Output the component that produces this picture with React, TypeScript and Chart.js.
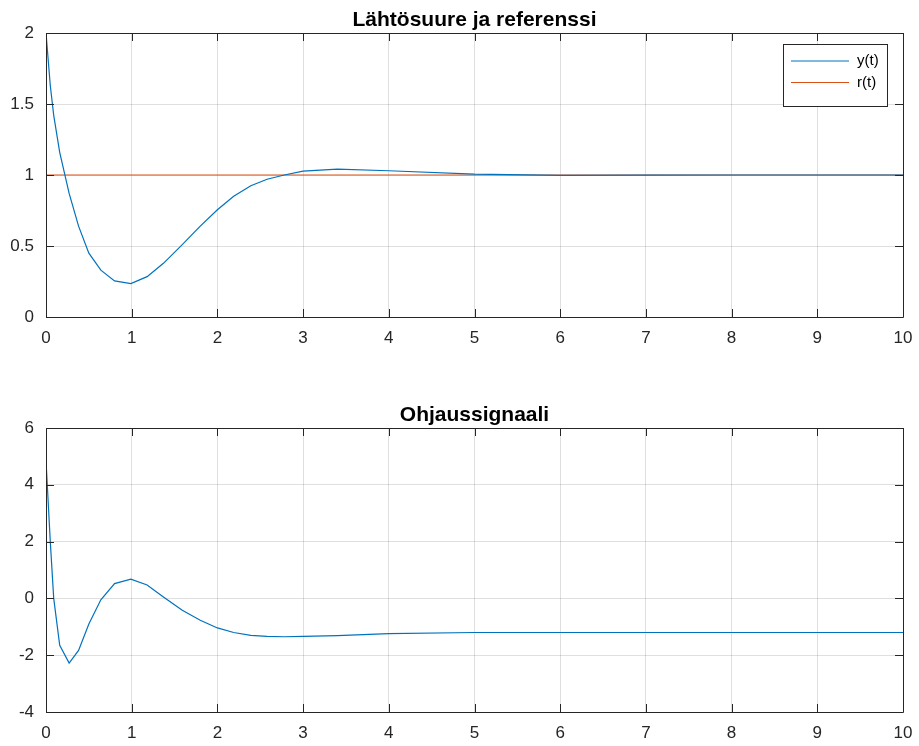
import React, { useEffect, useRef } from "react";
import { Chart, registerables } from "chart.js";

Chart.register(...registerables);

// ---- data ----
const tSim = [0, 0.05, 0.09, 0.16, 0.27, 0.38, 0.5, 0.64, 0.8, 0.99, 1.18, 1.37, 1.59, 1.8, 2.0, 2.19, 2.39, 2.58, 2.78, 3.0, 3.4, 4.0, 5.0, 6.0, 7.0, 8.0, 9.0, 10.0];
const yOut = [2.0, 1.63, 1.42, 1.16, 0.87, 0.64, 0.45, 0.33, 0.254, 0.235, 0.284, 0.378, 0.51, 0.64, 0.755, 0.85, 0.924, 0.97, 1.0, 1.027, 1.042, 1.03, 1.006, 0.998, 0.999, 1.0, 1.0, 1.0];
const tRef = [0, 10];
const rRef = [1, 1];
const uCtrl = [4.85, 2.0, 0.0, -1.65, -2.28, -1.83, -0.9, -0.05, 0.52, 0.68, 0.47, 0.05, -0.42, -0.77, -1.04, -1.2, -1.3, -1.34, -1.35, -1.34, -1.31, -1.24, -1.2, -1.2, -1.2, -1.2, -1.2, -1.2];

const topTitle = "Lähtösuure ja referenssi";
const bottomTitle = "Ohjaussignaali";
const legendLabels = ["y(t)", "r(t)"];

const BLUE = "#0072BD";
const ORANGE = "#D95319";
const AXIS = "#262626";
const FONT = "'Liberation Sans', Arial, Helvetica, sans-serif";

const zip = (xs: number[], ys: number[]) => xs.map((x, i) => ({ x, y: ys[i] }));

const matlabPlugin = {
  id: "matlabAxes",
  afterDraw(chart: any, _args: any, opts: any) {
    const ctx = chart.ctx;
    const a = chart.chartArea;
    const xs = chart.scales.x;
    const ys = chart.scales.y;
    ctx.save();
    ctx.strokeStyle = AXIS;
    ctx.lineWidth = 1;
    ctx.beginPath();
    ctx.rect(Math.round(a.left) + 0.5, Math.round(a.top) + 0.5, Math.round(a.right - a.left), Math.round(a.bottom - a.top));
    ctx.stroke();
    const tl = 8;
    ctx.beginPath();
    xs.ticks.forEach((t: any) => {
      const px = Math.round(xs.getPixelForValue(t.value)) + 0.5;
      ctx.moveTo(px, a.bottom);
      ctx.lineTo(px, a.bottom - tl);
      ctx.moveTo(px, a.top);
      ctx.lineTo(px, a.top + tl);
    });
    ys.ticks.forEach((t: any) => {
      const py = Math.round(ys.getPixelForValue(t.value)) + 0.5;
      ctx.moveTo(a.left, py);
      ctx.lineTo(a.left + tl, py);
      ctx.moveTo(a.right, py);
      ctx.lineTo(a.right - tl, py);
    });
    ctx.stroke();

    // title
    ctx.fillStyle = "#000";
    ctx.font = `bold 21px ${FONT}`;
    ctx.textAlign = "center";
    ctx.textBaseline = "alphabetic";
    ctx.fillText(opts.title, (a.left + a.right) / 2, a.top - opts.titleGap);

    // legend
    if (opts.legend) {
      const bw = 104;
      const bh = 62;
      const bx = a.right - 16 - bw;
      const by = a.top + 11;
      ctx.fillStyle = "#fff";
      ctx.fillRect(bx, by, bw, bh);
      ctx.strokeStyle = AXIS;
      ctx.strokeRect(Math.round(bx) + 0.5, Math.round(by) + 0.5, bw, bh);
      const colors = [BLUE, ORANGE];
      ctx.font = `15px ${FONT}`;
      ctx.textAlign = "left";
      ctx.textBaseline = "middle";
      opts.legend.forEach((lab: string, i: number) => {
        const ly = by + 17 + i * 21.5;
        ctx.strokeStyle = colors[i];
        ctx.beginPath();
        ctx.moveTo(bx + 8, ly);
        ctx.lineTo(bx + 66, ly);
        ctx.stroke();
        ctx.fillStyle = "#000";
        ctx.fillText(lab, bx + 74, ly);
      });
    }
    ctx.restore();
  },
};

const fmt = (v: any) => String(Number(v));

function makeConfig(datasets: any[], yMin: number, yMax: number, yStep: number, padTop: number, xAxisH: number, title: string, titleGap: number, legend: string[] | null): any {
  return {
    type: "line",
    data: { datasets },
    options: {
      animation: false,
      responsive: false,
      devicePixelRatio: 1,
      layout: { padding: { left: 0, right: 16, top: padTop, bottom: 0 } },
      elements: { point: { radius: 0 }, line: { borderWidth: 1.2, tension: 0 } },
      plugins: {
        legend: { display: false },
        title: { display: false },
        tooltip: { enabled: false },
        matlabAxes: { title, titleGap, legend },
      },
      scales: {
        x: {
          type: "linear",
          min: 0,
          max: 10,
          afterFit: (s: any) => { s.height = xAxisH; s.paddingLeft = 0; s.paddingRight = 0; },
          ticks: { stepSize: 1, color: AXIS, padding: 11, font: { family: FONT, size: 17 }, maxRotation: 0, callback: fmt },
          grid: { color: "rgba(38,38,38,0.15)", drawTicks: false },
          border: { display: false },
        },
        y: {
          type: "linear",
          min: yMin,
          max: yMax,
          afterFit: (s: any) => { s.width = 46; s.paddingTop = 0; s.paddingBottom = 0; },
          ticks: { stepSize: yStep, color: AXIS, padding: 12, font: { family: FONT, size: 17 }, callback: fmt },
          grid: { color: "rgba(38,38,38,0.15)", drawTicks: false },
          border: { display: false },
        },
      },
    },
    plugins: [matlabPlugin],
  };
}

export default function App() {
  const topRef = useRef<HTMLCanvasElement>(null);
  const botRef = useRef<HTMLCanvasElement>(null);

  useEffect(() => {
    const c1 = new Chart(
      topRef.current!,
      makeConfig(
        [
          { label: legendLabels[0], data: zip(tSim, yOut), borderColor: BLUE, borderWidth: 1.2 },
          { label: legendLabels[1], data: zip(tRef, rRef), borderColor: ORANGE, borderWidth: 1.2 },
        ],
        0, 2, 0.5, 33, 56, topTitle, 7, legendLabels
      )
    );
    const c2 = new Chart(
      botRef.current!,
      makeConfig(
        [{ label: "u(t)", data: zip(tSim, uCtrl), borderColor: BLUE, borderWidth: 1.2 }],
        -4, 6, 2, 55, 34, bottomTitle, 7, null
      )
    );
    return () => {
      c1.destroy();
      c2.destroy();
    };
  }, []);

  return (
    <div style={{ position: "absolute", left: 0, top: 0, width: 919, height: 746, background: "#fff" }}>
      <canvas ref={topRef} width={919} height={373} style={{ display: "block", width: 919, height: 373 }} />
      <canvas ref={botRef} width={919} height={373} style={{ display: "block", width: 919, height: 373 }} />
    </div>
  );
}
